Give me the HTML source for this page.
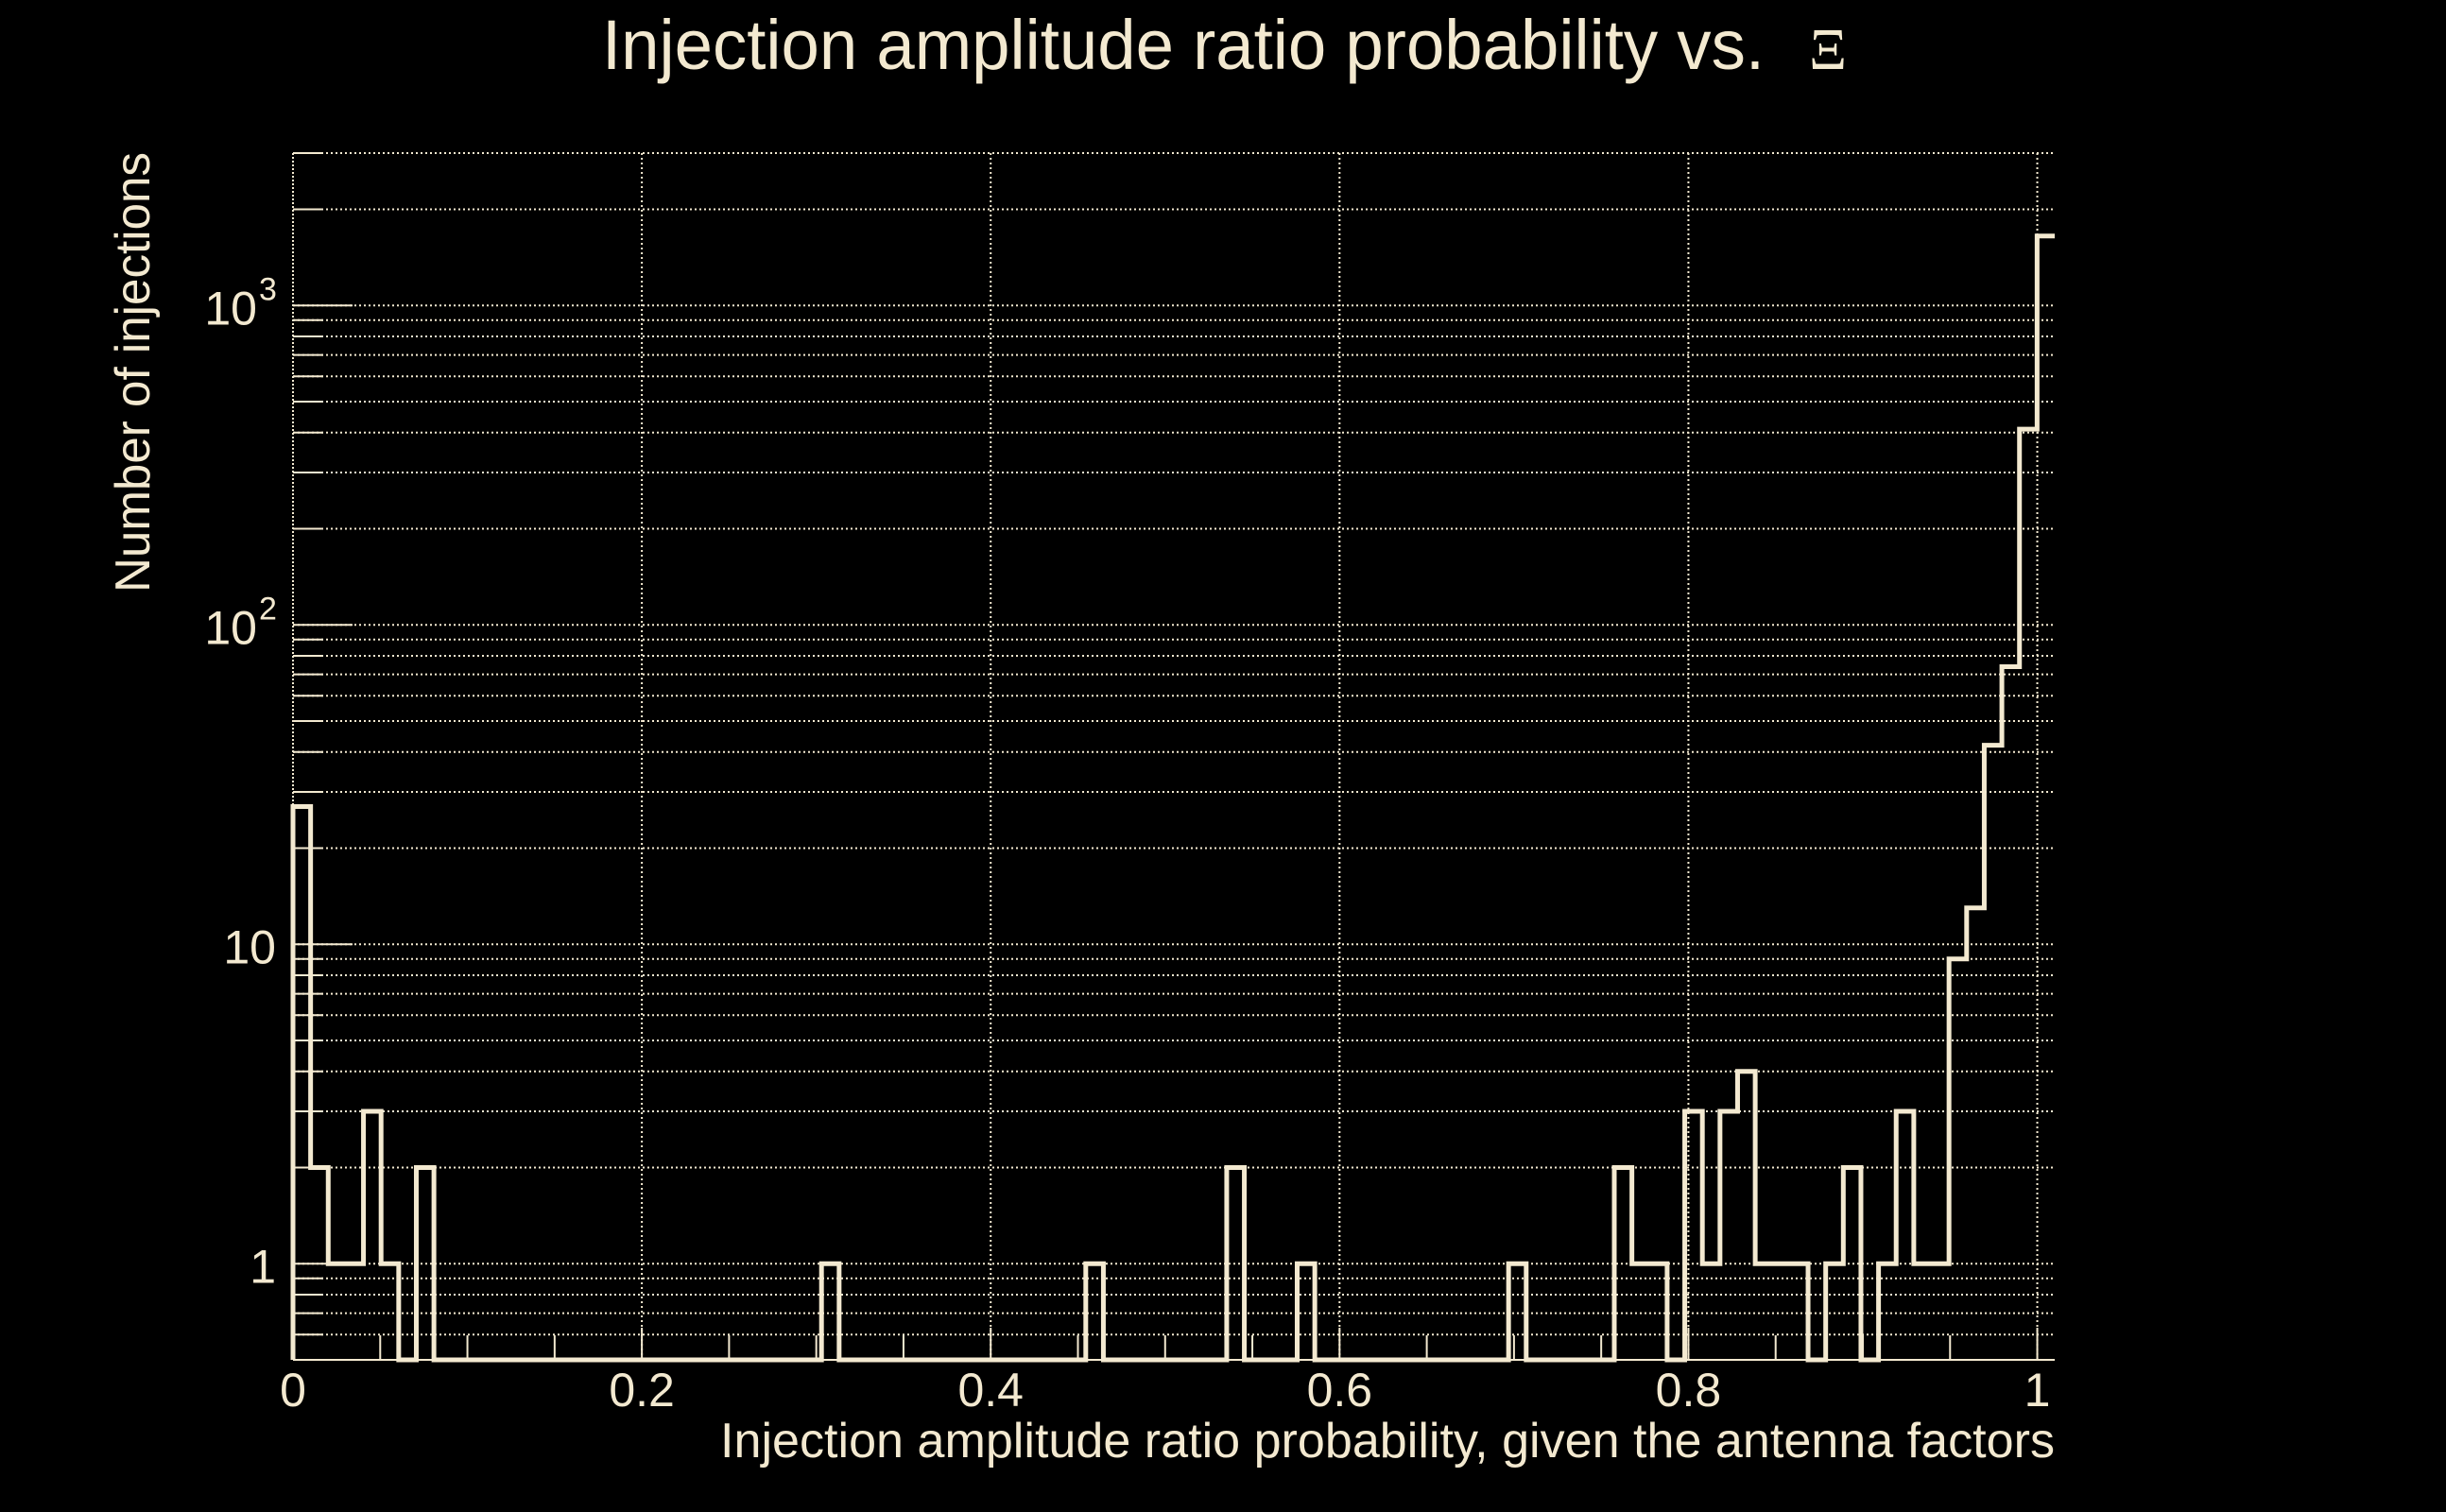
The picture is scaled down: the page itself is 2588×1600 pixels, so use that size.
<!DOCTYPE html>
<html><head><meta charset="utf-8"><style>
html,body{margin:0;padding:0;background:#000;}
svg{display:block;}
text{font-family:"Liberation Sans",sans-serif;fill:#f3e9d0;}
</style></head><body>
<svg id="chart" width="2588" height="1600" viewBox="0 0 2588 1600" xmlns="http://www.w3.org/2000/svg">
<rect width="2588" height="1600" fill="#000"/>
<text x="637" y="73" font-size="74" text-anchor="start" textLength="1230" lengthAdjust="spacingAndGlyphs">Injection amplitude ratio probability vs.</text>
<text x="1954" y="73" font-size="62" text-anchor="end" style="font-family:'Liberation Serif',serif">Ξ</text>
<text transform="translate(158,394) rotate(-90)" font-size="52" text-anchor="middle" textLength="466" lengthAdjust="spacingAndGlyphs">Number of injections</text>
<text x="2174" y="1542" font-size="52" text-anchor="end" textLength="1412" lengthAdjust="spacingAndGlyphs">Injection amplitude ratio probability, given the antenna factors</text>
<g id="grid"></g>
<g id="ticks"></g>
<g id="labels"></g>
<path id="hist" fill="none" stroke="#f3e9d0" stroke-width="5" stroke-linejoin="miter"/>
</svg>
<script>
// Data
const binStart = 0;
const binWidth = 0.0101;
const counts = [27,2,1,1,3,1,0,2,0,0, 0,0,0,0,0,0,0,0,0,0, 0,0,0,0,0,0,0,0,0,0,
 1,0,0,0,0,0,0,0,0,0, 0,0,0,0,0,1,0,0,0,0, 0,0,0,2,0,0,0,1,0,0,
 0,0,0,0,0,0,0,0,0,1, 0,0,0,0,0,2,1,1,0,3, 1,3,4,1,1,1,0,1,2,0,
 1,3,1,1,9,13,42,74,410,1650];
const xTicks = [0,0.2,0.4,0.6,0.8,1];
const xTickLabels = ["0","0.2","0.4","0.6","0.8","1"];
const yMajor = [1,10,100,1000];
const yMajorLabels = ["1","10","10","10"];
const yMajorExp = ["","","2","3"];

const X0=310, X1=2174, Y0=1439, Y1=162;
const xMin=0, xMax=1.01, yMin=0.5, yMax=3000;
const C="#f3e9d0";
const NS="http://www.w3.org/2000/svg";
function xs(v){return X0+(v-xMin)/(xMax-xMin)*(X1-X0);}
function ys(v){return Y0-(Math.log10(v)-Math.log10(yMin))/(Math.log10(yMax)-Math.log10(yMin))*(Y0-Y1);}
function mk(tag,attrs,parent){const e=document.createElementNS(NS,tag);for(const k in attrs)e.setAttribute(k,attrs[k]);parent.appendChild(e);return e;}
const grid=document.getElementById('grid'),ticks=document.getElementById('ticks'),labels=document.getElementById('labels');

for(let d=-1;d<=3;d++){for(let m=1;m<10;m++){const v=m*Math.pow(10,d);if(v<yMin||v>yMax)continue;const y=ys(v);
 const g=mk('line',{x1:X0,x2:X1,y1:y,y2:y,stroke:C,'stroke-width':2,'stroke-dasharray':'2 3'},grid);
 
 
 const t=mk('line',{x1:X0,x2:X0+(m===1?63:32),y1:y,y2:y,stroke:C,'stroke-width':2},ticks);
 
 
}}
xTicks.forEach((v,i)=>{const x=xs(v);
 if(v>0){const g=mk('line',{x1:x,x2:x,y1:Y1,y2:Y0,stroke:C,'stroke-width':2,'stroke-dasharray':'2 3'},grid);
 
 }
 const t=mk('line',{x1:x,x2:x,y1:Y0,y2:Y0-34,stroke:C,'stroke-width':2},ticks);
 
 
 const l=mk('text',{x:x,y:1488,'font-size':50,'text-anchor':'middle'},labels);l.textContent=xTickLabels[i];
 
 
});
for(let k=1;k<=20;k++){const v=k*0.05;if(Math.abs(v*5-Math.round(v*5))<1e-6)continue;const x=xs(v);
 const t=mk('line',{x1:x,x2:x,y1:Y0,y2:Y0-26,stroke:C,'stroke-width':2},ticks);
 
 }
const ax=mk('line',{x1:X0,x2:X0,y1:Y1,y2:Y0,stroke:C,'stroke-width':2,'stroke-dasharray':'2 2'},grid);


const bx=mk('line',{x1:X0,x2:X1,y1:Y0,y2:Y0,stroke:C,'stroke-width':2},grid);


yMajor.forEach((v,i)=>{const y=ys(v);
 const l=mk('text',{x:yMajorExp[i]?272:292,y:y+20,'font-size':50,'text-anchor':'end'},labels);l.textContent=yMajorLabels[i];
 
 
 if(yMajorExp[i]){const e=mk('text',{x:274,y:y-6,'font-size':34,'text-anchor':'start'},labels);e.textContent=yMajorExp[i];
 
 }
});
function yc(c){return c>0?ys(c):Y0;}
let d='M'+xs(binStart)+','+Y0;
counts.forEach((c,i)=>{const xa=xs(binStart+i*binWidth),xb=xs(binStart+(i+1)*binWidth);d+=' L'+xa+','+yc(c)+' L'+xb+','+yc(c);});
document.getElementById('hist').setAttribute('d',d);
</script>
</body></html>
